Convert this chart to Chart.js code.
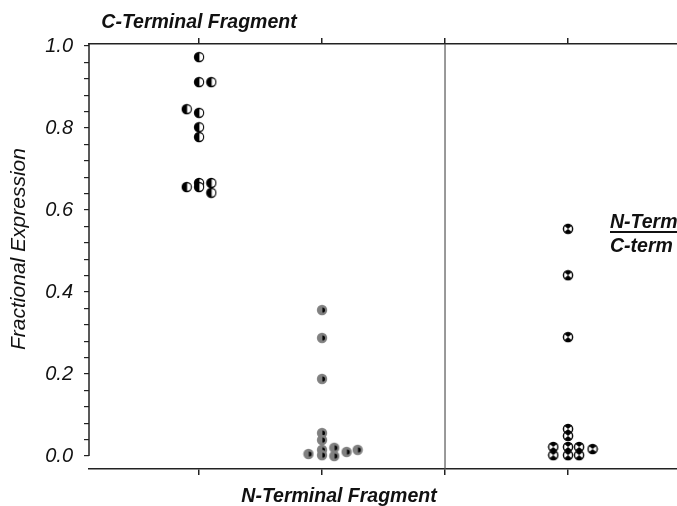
<!DOCTYPE html>
<html>
<head>
<meta charset="utf-8">
<script src="https://cdn.jsdelivr.net/npm/chart.js@4.4.1/dist/chart.umd.min.js"></script>
<style>
  html, body { margin: 0; padding: 0; background: #fff; overflow: hidden; }
  #wrap { width: 677px; height: 506px; position: relative; }
</style>
</head>
<body>
<div id="wrap"><canvas id="chart"></canvas></div>
<script>
// category positions on the x axis: 1 = C-terminal, 2 = N-terminal, 3 = divider, 4 = ratio
const categoryTicks = [1, 2, 3, 4];
const yTicks = [0, 0.04, 0.08, 0.12, 0.16, 0.2, 0.24, 0.28, 0.32, 0.36, 0.4, 0.44, 0.48,
                0.52, 0.56, 0.6, 0.64, 0.68, 0.72, 0.76, 0.8, 0.84, 0.88, 0.92, 0.96, 1.0];

// C-terminal fragment expression
const cTermX = [1, 1, 1.1, 0.9, 1, 1, 1, 0.9, 1, 1, 1.1, 1.1];
const cTermY = [0.973, 0.912, 0.912, 0.846, 0.837, 0.802, 0.778, 0.656, 0.666, 0.656, 0.666, 0.642];

// N-terminal fragment expression
const nTermX = [2, 2, 2, 2, 2, 1.89, 2, 2, 2.1, 2.1, 2.2, 2.29];
const nTermY = [0.356, 0.288, 0.188, 0.056, 0.039, 0.005, 0.015, 0.002, 0.02, 0.0, 0.01, 0.015];

// N-term / C-term ratio
const ratioX = [4, 4, 4, 4, 4, 3.88, 3.88, 4, 4, 4.09, 4.09, 4.2];
const ratioY = [0.554, 0.441, 0.290, 0.066, 0.049, 0.022, 0.002, 0.022, 0.002, 0.022, 0.002, 0.017];

function toPoints(xs, ys) {
  return xs.map((x, i) => ({ x: x, y: ys[i] }));
}

// little canvas markers, one style per group
function makeMarker(kind) {
  const c = document.createElement('canvas');
  c.width = 12; c.height = 12;
  const g = c.getContext('2d');
  const cx = 6, cy = 6, r = 5.2;
  if (kind === 'cterm') {
    g.fillStyle = '#000';
    g.beginPath(); g.arc(cx, cy, r, 0, Math.PI * 2); g.fill();
    g.fillStyle = '#fff';
    g.beginPath(); g.arc(cx + 0.4, cy, 3.7, -Math.PI / 2, Math.PI / 2); g.closePath(); g.fill();
  } else if (kind === 'nterm') {
    g.fillStyle = '#808080';
    g.beginPath(); g.arc(cx, cy, r, 0, Math.PI * 2); g.fill();
    g.fillStyle = '#000';
    g.beginPath(); g.arc(cx + 0.4, cy, 2.6, -Math.PI / 2, Math.PI / 2); g.closePath(); g.fill();
  } else {
    g.fillStyle = '#fff';
    g.strokeStyle = '#000';
    g.lineWidth = 1.4;
    g.beginPath(); g.arc(cx, cy, r - 0.6, 0, Math.PI * 2); g.fill(); g.stroke();
    g.fillStyle = '#000';
    g.beginPath(); g.moveTo(cx, cy); g.arc(cx, cy, r - 0.6, -Math.PI * 0.78, -Math.PI * 0.22); g.closePath(); g.fill();
    g.beginPath(); g.moveTo(cx, cy); g.arc(cx, cy, r - 0.6, Math.PI * 0.22, Math.PI * 0.78); g.closePath(); g.fill();
  }
  return c;
}

const lineColor = '#222';
const textColor = '#111';

// frame lines, divider and free text
const decorations = {
  id: 'decorations',
  afterDraw(chart) {
    const { ctx, chartArea } = chart;
    const x = chart.scales.x, y = chart.scales.y;
    ctx.save();
    ctx.strokeStyle = lineColor;
    ctx.lineWidth = 1.5;
    ctx.beginPath();
    ctx.moveTo(chartArea.left, chartArea.top);
    ctx.lineTo(chartArea.left, y.getPixelForValue(0));
    ctx.stroke();

    ctx.strokeStyle = '#555';
    ctx.lineWidth = 1.2;
    const xd = x.getPixelForValue(3);
    ctx.beginPath();
    ctx.moveTo(xd, chartArea.top);
    ctx.lineTo(xd, chartArea.bottom);
    ctx.stroke();

    ctx.fillStyle = textColor;
    ctx.font = 'italic bold 19.5px "Liberation Sans", Arial, sans-serif';
    ctx.textAlign = 'center';
    ctx.textBaseline = 'alphabetic';
    ctx.fillText('C-Terminal Fragment', x.getPixelForValue(1), 28);
    ctx.fillText('N-Terminal Fragment', 339, 502);

    ctx.textAlign = 'left';
    ctx.fillText('N-Term', 610, 228);
    const w = ctx.measureText('N-Term').width;
    ctx.fillRect(610, 231, w, 2);
    ctx.fillText('C-term', 610, 252);

    ctx.font = 'italic 21px "Liberation Sans", Arial, sans-serif';
    ctx.translate(19, 249);
    ctx.rotate(-Math.PI / 2);
    ctx.textAlign = 'center';
    ctx.textBaseline = 'middle';
    ctx.fillText('Fractional Expression', 0, 0);
    ctx.restore();
  }
};

function catAxis(position, height) {
  return {
    type: 'linear',
    position: position,
    min: 0.1057,
    max: 4.886,
    afterBuildTicks(scale) { scale.ticks = categoryTicks.map(v => ({ value: v })); },
    afterFit(scale) { scale.height = height; },
    ticks: { display: false, autoSkip: false },
    grid: { drawOnChartArea: false, drawTicks: true, tickLength: 6, color: lineColor, lineWidth: 1.5 },
    border: { display: true, color: lineColor, width: 1.5 }
  };
}

new Chart(document.getElementById('chart'), {
  type: 'scatter',
  data: {
    datasets: [
      { label: 'C-Terminal Fragment', data: toPoints(cTermX, cTermY), pointStyle: makeMarker('cterm') },
      { label: 'N-Terminal Fragment', data: toPoints(nTermX, nTermY), pointStyle: makeMarker('nterm') },
      { label: 'N-Term / C-term', data: toPoints(ratioX, ratioY), pointStyle: makeMarker('ratio') }
    ]
  },
  options: {
    responsive: true,
    maintainAspectRatio: false,
    animation: false,
    layout: { padding: 0, autoPadding: false },
    plugins: { legend: { display: false }, tooltip: { enabled: false } },
    scales: {
      x: catAxis('bottom', 37),
      x2: catAxis('top', 44),
      y: {
        type: 'linear',
        position: 'left',
        min: -0.0317,
        max: 1.0049,
        afterBuildTicks(scale) { scale.ticks = yTicks.map(v => ({ value: v })); },
        afterFit(scale) { scale.width = 89; },
        ticks: {
          autoSkip: false,
          padding: 11,
          color: textColor,
          font: { family: '"Liberation Sans", Arial, sans-serif', size: 20, style: 'italic' },
          callback(value) {
            const k = value * 5;
            return Math.abs(k - Math.round(k)) < 1e-6 ? value.toFixed(1) : '';
          }
        },
        grid: { drawOnChartArea: false, drawTicks: true, tickLength: 5, color: lineColor, lineWidth: 1.2 },
        border: { display: false }
      }
    }
  },
  plugins: [decorations]
});
</script>
</body>
</html>
